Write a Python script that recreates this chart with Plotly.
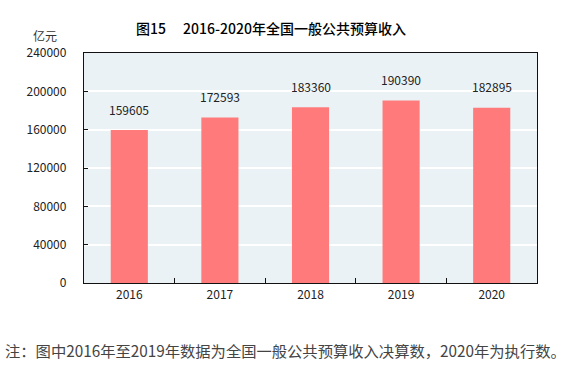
import plotly.graph_objects as go

years = ["2016", "2017", "2018", "2019", "2020"]
revenue = [159605, 172593, 183360, 190390, 182895]
y_ticks = [0, 40000, 80000, 120000, 160000, 200000, 240000]

title_text = "图15\u3000 2016-2020年全国一般公共预算收入"
unit_text = "亿元"
note_text = "注：图中2016年至2019年数据为全国一般公共预算收入决算数，2020年为执行数。"

font_family = "Noto Sans CJK SC, Noto Sans, sans-serif"

L, R, T, B = 84, 49, 53, 87
PW, PH = 586 - L - R, 370 - T - B

def px(x):
    return (x - L) / PW

def py(y):
    return (370 - B - y) / PH

fig = go.Figure()
fig.add_trace(go.Bar(
    x=years, y=revenue,
    marker=dict(color="#FF7B7B", line=dict(width=0)),
    width=0.41,
    hoverinfo="x+y",
))

for i, v in enumerate(revenue):
    fig.add_annotation(x=i, y=v, xref="x", yref="y", text=str(v), showarrow=False,
                       yshift=21, font=dict(size=12, color="#222"))

fig.add_annotation(xref="paper", yref="paper", x=px(271), y=py(28),
                   text=title_text, showarrow=False, xanchor="center", yanchor="middle",
                   font=dict(size=14, color="#000", weight=500))
fig.add_annotation(xref="paper", yref="paper", x=px(45), y=py(35),
                   text=unit_text, showarrow=False, xanchor="center", yanchor="middle",
                   font=dict(size=12, color="#333"))
fig.add_annotation(xref="paper", yref="paper", x=px(3), y=py(350),
                   text=note_text, showarrow=False, xanchor="left", yanchor="middle",
                   font=dict(size=15.3, color="#444"))

fig.update_layout(
    width=586, height=370,
    margin=dict(l=L, r=R, t=T, b=B, autoexpand=False),
    paper_bgcolor="white",
    plot_bgcolor="#EAF2F6",
    font=dict(family=font_family, size=12, color="#333"),
    showlegend=False,
    xaxis=dict(
        type="category", range=[-0.5, len(years) - 0.5], autorange=False,
        automargin=False,
        showline=True, linecolor="#111", linewidth=1.3, mirror=True,
        ticks="inside", tickson="boundaries", ticklen=5, tickcolor="#111",
        showgrid=False, tickfont=dict(size=12, color="#222"), tickangle=0,
    ),
    yaxis=dict(
        range=[0, 240000], tickvals=y_ticks, ticktext=[str(t) for t in y_ticks],
        automargin=False, ticklabelstandoff=14,
        showline=True, linecolor="#111", linewidth=1.3, mirror=True,
        ticks="inside", ticklen=4, tickcolor="#111",
        showgrid=True, gridcolor="white", gridwidth=1.5, zeroline=False,
        tickfont=dict(size=12, color="#222"),
    ),
)

fig.write_html("out.html", config={"displayModeBar": False},
               post_script="document.body.style.margin='0';")
